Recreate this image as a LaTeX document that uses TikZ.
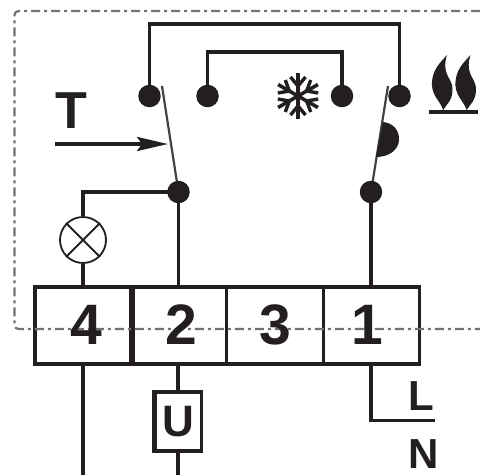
\documentclass[tikz,border=0pt]{standalone}
\usepackage{fontspec}
\setmainfont{Liberation Sans}
\usetikzlibrary{arrows.meta}
\definecolor{ink}{RGB}{35,31,32}
\pgfdeclarelayer{top}
\pgfsetlayers{main,top}
\tikzset{
  wire/.style={draw=ink,line width=3.3pt},
  dotn/.style={circle,fill=ink,inner sep=0pt,minimum size=22.5pt},
  lever/.style={draw=ink!85,line width=2.2pt},
  cell/.style={rectangle,draw=ink,line width=3.4pt,inner sep=0pt,minimum height=77pt},
  lab/.style={text=ink,inner sep=0pt,font=\bfseries\fontsize{57}{57}\selectfont},
  small/.style={text=ink,inner sep=0pt,font=\bfseries\fontsize{42}{42}\selectfont},
  frame/.style={draw=black!55,line width=2.2pt,dash pattern=on 9pt off 4pt on 3pt off 4pt},
  flake/.style={draw=ink,line width=3.6pt},
}
\begin{document}
\begin{tikzpicture}[x=1pt,y=-1pt]
\useasboundingbox (0,0) rectangle (480,475);
\fill[white] (0,0) rectangle (480,475);
% terminal block
\node[cell,minimum width=96pt] (c4) at (83,325.5) {};
\node[cell,minimum width=95.5pt] (c2) at (178.75,325.5) {};
\node[cell,minimum width=97pt] (c3) at (275,325.5) {};
\node[cell,minimum width=96pt] (c1) at (371.5,325.5) {};
\draw[wire,line width=5pt] (c4.north east) -- (c4.south east);
% dashed enclosure
\draw[frame,rounded corners=4pt] (480,11) -- (14.5,11) -- (14.5,329) -- (480,329);
\node[lab] (n4) at (86,325) {4};
\node[lab] (n2) at (181,325) {2};
\node[lab] (n3) at (275,325) {3};
\node[lab] (n1) at (367,325) {1};
% contacts
\begin{pgfonlayer}{top}
\node[dotn] (d1) at (149.5,96) {};
\node[dotn] (d2) at (207.5,96) {};
\node[dotn] (d3) at (342,96) {};
\node[dotn] (d4) at (399.5,96) {};
\node[dotn] (d5) at (178.5,192) {};
\node[dotn] (d6) at (371,192) {};
\end{pgfonlayer}
\coordinate (a1) at (149.5,24);
\coordinate (a2) at (207.5,52);
\draw[wire,line width=3.8pt] (d1.center) -- (a1) -| (d4.center);
\draw[wire] (d2.center) -- (a2) -| (d3.center);
% levers
\coordinate (l1) at (162,86);
\coordinate (l2) at (388,86);
\draw[lever] (l1) -- (d5.center);
\draw[lever] (l2) -- (d6.center);
% bimetal half disc
\fill[ink] (383,122) .. controls (393,123) and (399.5,130) .. (399,140) .. controls (398.5,150) and (389,157) .. (376,157) -- cycle;
% T and its arrow
\node[text=ink,inner sep=0pt,font=\bfseries\fontsize{52}{52}\selectfont] (T) at (71.5,110.5) {T};
\coordinate (ar0) at (55,144);
\coordinate (ar1) at (168,144);
\draw[draw=ink,line width=3.3pt,-{Stealth[length=31pt,width=14pt,inset=5pt]}] (ar0) -- (ar1);
% lamp
\node[circle,draw=ink,line width=1.8pt,fill=white,inner sep=0pt,minimum size=46pt] (lamp) at (83,240) {};
\draw[ink,line width=1.8pt] (lamp.45) -- (lamp.225) (lamp.135) -- (lamp.315);
\coordinate (lw) at (83,192);
\draw[wire] (d5.center) -- (lw) -- (lamp.north);
\draw[wire] (lamp.south) -- (lamp.south |- c4.north);
% terminal wires
\draw[wire] (d5.center) -- (d5.center |- c2.north);
\draw[wire] (d6.center) -- (d6.center |- c1.north);
% load box U
\node[rectangle,draw=ink,line width=3.2pt,inner sep=0pt,minimum width=46pt,minimum height=59pt,text=ink,font=\bfseries\fontsize{44}{44}\selectfont] (U) at (178.5,421.5) {U};
\draw[ink,line width=4.5pt] (U.north west) -- (U.south west);
\coordinate (b4) at (83,475);
\coordinate (b2) at (178,475);
\draw[wire] (b4) -- (b4 |- c4.south);
\draw[wire] (U.north -| b2) -- (b2 |- c2.south);
\draw[wire] (U.south -| b2) -- (b2);
% L and N
\coordinate (le) at (435,420.5);
\draw[wire] (d6.center |- c1.south) |- (le);
\node[small] (L) at (421,396) {L};
\node[small] (N) at (424,454.5) {N};
% snowflake
\begin{scope}[shift={(298,96)}]
\foreach \a in {30,90,...,330}{
  \draw[flake,rotate=\a] (0,0) -- (23,0);
  \draw[flake,rotate=\a,line width=3.4pt] (10,0) -- (19,-7.5) (10,0) -- (19,7.5);
}
\end{scope}
% flames
\foreach \dx in {0,23.5}{
  \fill[ink,shift={(\dx,0)}] (447,55) .. controls (441,62) and (431,70) .. (432,86)
     .. controls (433,97) and (441,102) .. (443,110)
     .. controls (447,104) and (453,100) .. (452.5,88)
     .. controls (452,78) and (441,74) .. (447,55) -- cycle;
}
\coordinate (f0) at (429,112);
\coordinate (f1) at (478,112);
\draw[wire,line width=4pt] (f0) -- (f1);
\end{tikzpicture}
\end{document}
